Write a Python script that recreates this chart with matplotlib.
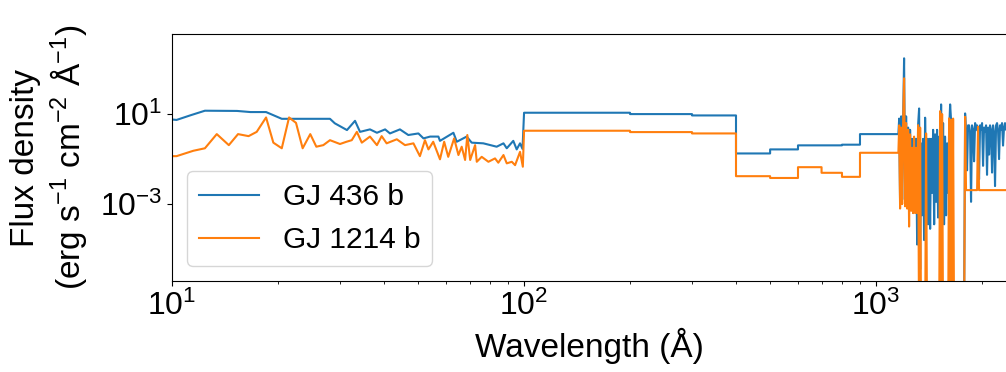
import matplotlib
matplotlib.use('Agg')
import matplotlib.pyplot as plt
import numpy as np
from matplotlib.ticker import FixedLocator, NullLocator, LogFormatterSciNotation

plt.rcParams['font.family'] = ['Liberation Sans', 'DejaVu Sans']
plt.rcParams['mathtext.fontset'] = 'custom'
plt.rcParams['mathtext.rm'] = 'Liberation Sans'
plt.rcParams['mathtext.it'] = 'Liberation Sans:italic'
plt.rcParams['mathtext.bf'] = 'Liberation Sans:bold'

# ---- data (log10 flux density) ----
# X-ray part, GJ 436 b
gj436_wl_x = [10.0, 10.3, 11.3, 12.4, 15.3, 16.7, 18.5, 20.5, 28.1, 29.0,
              31.4, 33.1, 34.2, 36.5, 38.2, 40.3, 41.6, 44.4, 46.9, 50.1,
              51.8, 54.1, 57.1, 57.7, 63.0, 64.4, 68.7, 71.0, 76.6, 83.6,
              87.4, 89.3, 93.2, 95.3, 97.4, 99.0]
gj436_logf_x = [0.76, 0.74, 0.95, 1.15, 1.14, 1.09, 1.09, 0.79, 0.79, 0.59,
                0.29, 0.70, 0.21, 0.32, 0.17, 0.32, 0.14, 0.32, 0.07, 0.14,
                -0.08, 0.00, 0.00, -0.19, 0.17, -0.23, 0.00, -0.27, -0.30, -0.45,
                -0.30, -0.52, -0.19, -0.57, -0.30, -0.55]

# X-ray part, GJ 1214 b
gj1214_wl_x = [10.0, 10.3, 11.5, 12.4, 13.4, 14.5, 15.4, 16.5, 17.4, 18.5,
               19.4, 20.5, 21.5, 22.5, 23.5, 24.7, 25.7, 26.9, 28.1, 30.0,
               31.3, 32.4, 33.5, 34.6, 36.5, 38.2, 39.4, 40.7, 43.5, 45.9,
               48.5, 50.6, 52.3, 53.5, 55.2, 57.7, 59.3, 60.9, 63.3, 65.1,
               66.5, 68.0, 69.0, 70.3, 72.6, 73.4, 75.8, 79.2, 82.7, 84.5,
               87.4, 89.3, 92.3, 94.3, 97.4, 99.2]
gj1214_logf_x = [-0.87, -0.87, -0.63, -0.52, 0.11, -0.38, 0.11, 0.02, 0.21, 0.85,
                 -0.27, -0.52, 0.85, 0.61, -0.52, 0.11, -0.45, -0.38, -0.16, -0.33,
                 -0.23, -0.16, 0.21, -0.27, 0.00, -0.38, 0.02, -0.30, -0.12, -0.38,
                 -0.30, -0.87, -0.16, -0.57, -0.23, -1.01, -0.23, -0.90, -0.08, -0.82,
                 -0.45, -1.04, 0.07, -1.04, -0.38, -1.12, -0.90, -1.12, -0.97, -1.16,
                 -0.82, -1.19, -1.12, -1.27, -0.68, -1.34]

# EUV bins (step function)
gj436_edges = [100, 200, 300, 400, 500, 600, 800, 900, 1157]
gj436_logf_bins = [1.06, 1.00, 0.94, -0.75, -0.57, -0.39, -0.36, 0.11]
gj1214_edges = [100, 200, 300, 400, 500, 600, 700, 800, 900, 1157]
gj1214_logf_bins = [0.26, 0.20, 0.14, -1.76, -1.84, -1.36, -1.61, -1.79, -0.72]

# FUV/NUV part
wl_uv = [1163, 1170, 1178, 1186, 1193, 1201, 1209, 1217, 1225, 1233,
         1241, 1249, 1258, 1266, 1274, 1282, 1291, 1299, 1308, 1316,
         1325, 1334, 1342, 1351, 1360, 1369, 1378, 1387, 1396, 1405,
         1415, 1424, 1433, 1443, 1452, 1462, 1471, 1481, 1490, 1500,
         1510, 1520, 1530, 1540, 1550, 1560, 1570, 1581, 1591, 1602,
         1612, 1623, 1633, 1644, 1655, 1666, 1676, 1687, 1699, 1710,
         1721, 1732, 1744, 1755, 1766, 1778, 1790, 1801, 1813, 1825,
         1837, 1849, 1861, 1873, 1886, 1898, 1911, 1923, 1936, 1948,
         1961, 1974, 1987, 2000, 2013, 2026, 2040, 2053, 2066, 2080,
         2094, 2107, 2121, 2135, 2149, 2163, 2177, 2192, 2206, 2220,
         2235, 2250, 2264, 2279, 2294, 2309, 2324, 2339, 2355]
gj436_logf_uv = [0.8, -3.0, 0.9, -2.8, 0.6, 3.48, -2.5, 0.9, -3.0, 0.4,
                 -3.2, 0.3, -2.9, -0.1, -3.4, -0.2, -3.3, -0.1, -4.8, 0.5,
                 1.25, -5.9, -0.3, -3.5, -0.1, -4.6, 0.84, -2.0, -0.1, -3.9,
                 -0.1, -4.1, -0.1, -2.5, 0.3, -3.9, 0.1, -2.9, 0.3, -3.6,
                 0.0, -2.0, 1.43, -3.0, 0.6, -3.9, 0.0, -3.5, -0.3, -2.5,
                 0.2, 1.43, 0.73, -3.0, -8.0, -8.0, -8.0, -8.0, -8.0, -8.0,
                 -8.0, -8.0, -8.0, -8.0, -8.0, -8.0, 1.03, 0.2, -1.5, 0.5,
                 0.5, 0.2, -2.9, 0.5, 0.3, -1.1, 0.6, 0.3, 0.5, 0.2,
                 -1.9, 0.5, 0.3, 0.6, -1.3, 0.4, 0.2, 0.5, -1.7, 0.4,
                 -0.8, 0.5, 0.3, -1.6, 0.5, 0.2, -2.2, 0.5, 0.6, 0.3,
                 -1.0, 0.5, 0.3, 0.6, -0.4, 0.4, 0.6, 0.3, 0.5]
gj1214_logf_uv = [0.5, -3.2, 0.4, -3.0, 0.5, 2.59, -3.1, 0.6, -3.2, 0.3,
                  -4.0, 0.1, -3.3, -0.5, -3.4, 0.0, -3.4, -0.5, -3.4, 0.51,
                  -9.0, 0.4, -9.0, -9.0, -9.0, -9.0, -9.0, 0.14, -9.0, -9.0,
                  -9.0, -9.0, -9.0, -9.0, -9.0, -9.0, -9.0, -9.0, -9.0, -9.0,
                  -9.0, 1.13, -9.0, 1.0, -9.0, -9.0, -9.0, -9.0, -9.0, -9.0,
                  0.81, -9.0, 0.75, -9.0, 0.8, -9.0, -9.0, -9.0, -9.0, -9.0,
                  -9.0, -9.0, -9.0, -9.0, -9.0, -9.0, 0.88, -2.38, -2.38, -2.38,
                  -2.38, -2.38, -2.38, -2.38, -2.38, -2.38, -2.38, -2.38, -2.38, 0.44,
                  -2.38, -2.38, -2.38, -2.38, -2.38, -2.38, -2.38, -2.38, -2.38, -2.38,
                  -2.38, -2.38, -2.38, -2.38, -2.38, -2.38, -2.38, -2.38, -2.38, -2.38,
                  -2.38, -2.38, -2.38, -2.38, -2.38, -2.38, -2.38, -2.38, -2.38]

labels = ['GJ 436 b', 'GJ 1214 b']


def spectrum(wl_x, logf_x, edges, logf_bins, logf_uv):
    step_wl = np.repeat(edges, 2)[1:-1]
    step_f = np.repeat(logf_bins, 2)
    wl = np.concatenate([wl_x, step_wl, wl_uv])
    logf = np.concatenate([logf_x, step_f, logf_uv])
    return wl, 10.0 ** logf


fig = plt.figure(figsize=(10.06, 3.72), dpi=100)
ax = fig.add_axes([0.171, 0.2446, 0.829, 0.664])

wl, f = spectrum(gj436_wl_x, gj436_logf_x, gj436_edges, gj436_logf_bins, gj436_logf_uv)
ax.plot(wl, f, color='#1f77b4', lw=1.5, label=labels[0])
wl, f = spectrum(gj1214_wl_x, gj1214_logf_x, gj1214_edges, gj1214_logf_bins, gj1214_logf_uv)
ax.plot(wl, f, color='#ff7f0e', lw=1.5, label=labels[1])

ax.set_xscale('log')
ax.set_yscale('log')
ax.set_xlim(10, 2339)
ax.set_ylim(10 ** -6.42, 10 ** 4.56)
ax.spines['right'].set_visible(False)

ax.yaxis.set_major_locator(FixedLocator([1e-3, 1e1]))
ax.yaxis.set_major_formatter(LogFormatterSciNotation())
ax.yaxis.set_minor_locator(NullLocator())
ax.tick_params(axis='both', which='major', labelsize=23)

ax.set_xlabel('Wavelength (Å)', fontsize=24)
ax.set_ylabel('Flux density\n(erg s$^{-1}$ cm$^{-2}$ Å$^{-1}$)', fontsize=24,
              labelpad=8)

ax.legend(loc='lower left', fontsize=21.5)

fig.savefig('out.png', dpi=100)
